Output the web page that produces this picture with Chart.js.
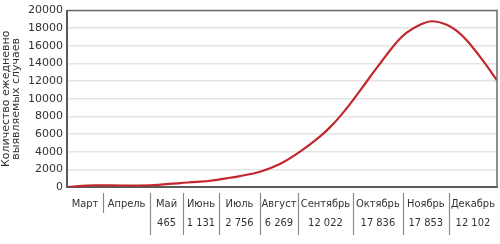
<!DOCTYPE html>
<html>
<head>
<meta charset="utf-8">
<script src="https://cdn.jsdelivr.net/npm/chart.js@4"></script>
<style>
  body { margin: 0; background: #fff; }
  #wrap { width: 500px; height: 244px; position: relative; }
</style>
</head>
<body>
<div id="wrap"><canvas id="cases"></canvas></div>
<script>
// months under the curve and their totals (no totals for March / April)
const months = ['Март', 'Апрель', 'Май', 'Июнь', 'Июль', 'Август', 'Сентябрь', 'Октябрь', 'Ноябрь', 'Декабрь'];
const monthValues = [null, null, 465, 1131, 2756, 6269, 12022, 17836, 17853, 12102];

// curve: time in months since 1 March, daily detected cases
const timeMonths = [0, 0.65, 1.35, 1.93, 2.63, 3.09, 3.33, 3.79, 4.02, 4.49, 4.95, 5.42, 5.88, 6.12, 6.35, 6.58, 6.81, 7.05, 7.32, 7.51, 7.74, 7.9, 8.21, 8.48, 8.83, 9.05, 9.3, 9.67, 10];
const dailyCases = [0, 200, 170, 200, 450, 600, 710, 1050, 1240, 1730, 2600, 4010, 5710, 6790, 8010, 9390, 10890, 12500, 14255, 15480, 16800, 17500, 18400, 18790, 18400, 17750, 16610, 14350, 12090];

const yTicks = [0, 2000, 4000, 6000, 8000, 10000, 12000, 14000, 16000, 18000, 20000];

// column edges of the table under the axis (same units as timeMonths)
const tableEdges = [0, 0.84, 1.93, 2.70, 3.53, 4.49, 5.37, 6.65, 7.81, 8.88, 10];

const fmt = v => String(v).replace(/\B(?=(\d{3})+(?!\d))/g, ' ');

const framePlugin = {
  id: 'frame',
  afterDatasetsDraw(chart) {
    const { ctx, chartArea: a } = chart;
    ctx.save();
    ctx.strokeStyle = '#6b6b6b';
    ctx.lineWidth = 1.5;
    ctx.beginPath();
    ctx.moveTo(a.left, a.top);
    ctx.lineTo(a.right, a.top);
    ctx.lineTo(a.right, a.bottom);
    ctx.stroke();
    ctx.restore();
  }
};

const tablePlugin = {
  id: 'monthTable',
  afterDraw(chart) {
    const { ctx, chartArea: a } = chart;
    const xs = chart.scales.x;
    const top = a.bottom + 6;
    const bottom = a.bottom + 48;
    ctx.save();
    ctx.strokeStyle = '#8a8a8a';
    ctx.lineWidth = 1.2;
    for (let i = 1; i < months.length; i++) {
      const px = Math.round(xs.getPixelForValue(tableEdges[i])) + 0.5;
      const full = monthValues[i - 1] !== null || monthValues[i] !== null;
      ctx.beginPath();
      ctx.moveTo(px, top);
      ctx.lineTo(px, full ? bottom : a.bottom + 26);
      ctx.stroke();
    }
    ctx.fillStyle = '#333';
    ctx.textAlign = 'center';
    ctx.textBaseline = 'middle';
    ctx.font = "11px 'Liberation Sans Narrow', 'DejaVu Sans Condensed', sans-serif";
    months.forEach((m, i) => {
      const cx = (xs.getPixelForValue(tableEdges[i]) + xs.getPixelForValue(tableEdges[i + 1])) / 2;
      ctx.fillText(m, cx, a.bottom + 17);
      if (monthValues[i] !== null) ctx.fillText(fmt(monthValues[i]), cx, a.bottom + 36);
    });
    ctx.restore();
  }
};

const ctx = document.getElementById('cases').getContext('2d');
const casesChart = new Chart(ctx, {
  type: 'line',
  data: {
    datasets: [{
      data: timeMonths.map((t, i) => ({ x: t, y: dailyCases[i] })),
      borderColor: '#c4262e',
      borderWidth: 2.2,
      pointRadius: 0,
      cubicInterpolationMode: 'monotone',
      fill: false
    }]
  },
  options: {
    responsive: true,
    maintainAspectRatio: false,
    animation: false,
    layout: { padding: { top: 10, right: 3 } },
    plugins: { legend: { display: false }, tooltip: { enabled: false } },
    scales: {
      x: {
        type: 'linear',
        min: 0,
        max: 10,
        grid: { display: false },
        border: { color: '#5a5a5a', width: 2 },
        ticks: { display: false },
        afterFit: s => { s.height = 57; }
      },
      y: {
        min: 0,
        max: 20000,
        afterBuildTicks: s => { s.ticks = yTicks.map(v => ({ value: v })); },
        ticks: {
          color: '#333',
          padding: 4,
          font: { family: 'DejaVu Sans', size: 11 },
          callback: v => String(v)
        },
        grid: { color: '#e4e4e4', lineWidth: 1.5, drawTicks: false },
        border: { color: '#5a5a5a', width: 2 },
        title: {
          display: true,
          text: ['Количество ежедневно', 'выявляемых случаев'],
          color: '#333',
          font: { family: 'DejaVu Sans', size: 11, lineHeight: 0.94 },
          padding: { top: 0.5, bottom: 0 }
        },
        afterFit: s => { s.width = 67; }
      }
    }
  },
  plugins: [framePlugin, tablePlugin]
});
</script>
</body>
</html>
